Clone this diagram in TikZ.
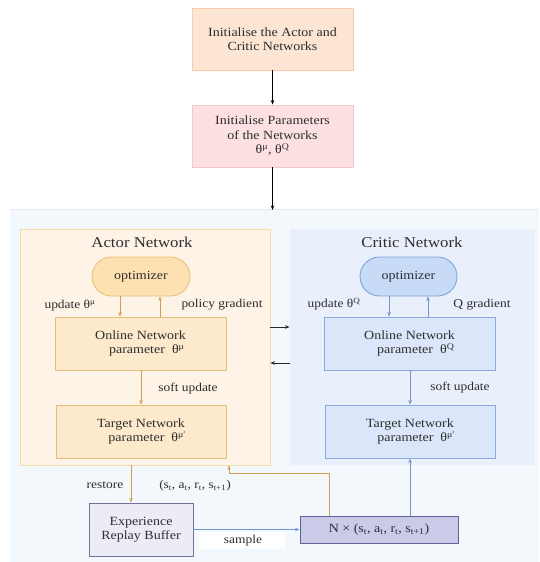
\documentclass[tikz,border=0pt]{standalone}
\usepackage{fontspec}
\setmainfont[FakeStretch=1.12]{Liberation Serif}
\usetikzlibrary{arrows.meta,shapes.misc}
\definecolor{txt}{HTML}{2E2E2E}
\definecolor{bgblue}{HTML}{F3F8FD}
\definecolor{bgline}{HTML}{E2E8F2}
\definecolor{peachF}{HTML}{FDE5D4}
\definecolor{peachD}{HTML}{F8CBAE}
\definecolor{pinkF}{HTML}{FDE1E2}
\definecolor{pinkD}{HTML}{F5C8C8}
\definecolor{actF}{HTML}{FDF3E6}
\definecolor{actD}{HTML}{F6DCAA}
\definecolor{aoptF}{HTML}{FDE1B1}
\definecolor{aoptD}{HTML}{E6C27C}
\definecolor{aboxF}{HTML}{FDE9CB}
\definecolor{aboxD}{HTML}{E4BF7C}
\definecolor{goldA}{HTML}{D0A050}
\definecolor{criF}{HTML}{E9EFFB}
\definecolor{coptF}{HTML}{C7DBF7}
\definecolor{coptD}{HTML}{7FA5D9}
\definecolor{cboxF}{HTML}{DBE6FA}
\definecolor{cboxD}{HTML}{88AADD}
\definecolor{blueA}{HTML}{6E96D0}
\definecolor{bufF}{HTML}{ECECF6}
\definecolor{bufD}{HTML}{72729A}
\definecolor{nF}{HTML}{CACAE9}
\definecolor{nD}{HTML}{62629C}
\tikzset{
  base/.style={text=txt, font=\fontsize{12.5}{14.5}\selectfont, align=center, inner sep=0pt, line width=0.9pt},
  box/.style={base, rectangle, minimum width=#1},
  region/.style={rectangle, inner sep=0pt, line width=0.9pt},
  title/.style={text=txt, font=\fontsize{15}{17}\selectfont, inner sep=0pt},
  lbl/.style={text=txt, font=\fontsize{12}{14}\selectfont, inner sep=0pt},
  arr/.style={line width=1pt, -{Stealth[length=4.5pt,width=3.5pt]}},
}
\newcommand{\thmu}{θ\textsuperscript{μ}}
\newcommand{\thQ}{θ\textsuperscript{Q}}
\newcommand{\thmup}{θ\textsuperscript{μ′}}
\newcommand{\tup}{(s\textsubscript{t}, a\textsubscript{t}, r\textsubscript{t}, s\textsubscript{t+1})}
\begin{document}
\begin{tikzpicture}[x=1pt,y=-1pt]
\useasboundingbox (0,0) rectangle (539,562);
% background region
\fill[bgblue] (10,209) rectangle (539,562);
\draw[bgline, line width=0.8pt] (10,209.5) -- (539,209.5);
\coordinate (bgtop) at (272.5,210);

% top boxes
\node[box=161pt, minimum height=62pt, fill=peachF, draw=peachD] (init1) at (272.5,39) {Initialise the Actor and\\Critic Networks};
\node[box=161pt, minimum height=62pt, fill=pinkF, draw=pinkD] (init2) at (272.5,136) {Initialise Parameters\\of the Networks\\\thmu, \thQ};
\draw[arr, black] (init1) -- (init2);
\draw[arr, black] (init2) -- (bgtop);

% regions
\node[region, minimum width=250pt, minimum height=236pt, fill=actF, draw=actD] (actorreg) at (145,347) {};
\node[region, minimum width=245pt, minimum height=236pt, fill=criF] (criticreg) at (412.5,347) {};
\node[title] (atitle) at (142,242) {Actor Network};
\node[title] (ctitle) at (412,242) {Critic Network};

% actor
\node[base, rounded rectangle, minimum width=98pt, minimum height=39pt, fill=aoptF, draw=aoptD] (aopt) at (141,276.5) {optimizer};
\node[box=171pt, minimum height=53pt, fill=aboxF, draw=aboxD] (aon) at (140.5,343.5) {Online Network\\\hspace*{1em}parameter~~\thmu};
\node[box=170pt, minimum height=53pt, fill=aboxF, draw=aboxD] (atg) at (141,431.5) {Target Network\\\hspace*{1em}parameter~~\thmup};
\draw[arr, goldA] ([xshift=-21pt]aopt.south) -- ([xshift=-21pt]aopt.south |- aon.north);
\draw[arr, goldA] ([xshift=19pt]aopt.south |- aon.north) -- ([xshift=19pt]aopt.south);
\draw[arr, goldA] (aon.south -| atg.north) -- (atg.north);
\node[lbl] (alu) at (70,306) {update \thmu};
\node[lbl] (alp) at (222,305) {policy gradient};
\node[lbl] (als) at (188,389) {soft update};

% critic
\node[base, rounded rectangle, minimum width=97pt, minimum height=39pt, fill=coptF, draw=coptD] (copt) at (408.5,276.5) {optimizer};
\node[box=171pt, minimum height=53pt, fill=cboxF, draw=cboxD] (con) at (409.5,343.5) {Online Network\\\hspace*{1em}parameter~~\thQ};
\node[box=170pt, minimum height=53pt, fill=cboxF, draw=cboxD] (ctg) at (410,431.5) {Target Network\\\hspace*{1em}parameter~~\thmup};
\draw[arr, blueA] ([xshift=-19.5pt]copt.south) -- ([xshift=-19.5pt]copt.south |- con.north);
\draw[arr, blueA] ([xshift=19.5pt]copt.south |- con.north) -- ([xshift=19.5pt]copt.south);
\draw[arr, blueA] (con.south -| ctg.north) -- (ctg.north);
\node[lbl] (clu) at (334,304) {update \thQ};
\node[lbl] (clq) at (482,305) {Q gradient};
\node[lbl] (cls) at (460,388) {soft update};

% cross arrows
\draw[arr, black!85] ([yshift=20pt]actorreg.east) -- ([yshift=20pt]criticreg.west);
\draw[arr, black!85] ([yshift=-16pt]criticreg.west) -- ([yshift=-16pt]actorreg.east);

% bottom
\node[box=104pt, minimum height=53pt, fill=bufF, draw=bufD] (buf) at (141,529.5) {Experience\\Replay Buffer};
\node[box=158pt, minimum height=27pt, fill=nF, draw=nD] (nbox) at (379,529.5) {N × \tup};
\node[rectangle, fill=white, minimum width=86pt, minimum height=17pt, inner sep=0pt] (samplebg) at (242,540.5) {};
\node[lbl] (slbl) at (243,541) {sample};
\draw[arr, blueA] (buf.east) -- (nbox.west);
\draw[arr, goldA] ([xshift=-14pt]actorreg.south) -- ([xshift=-10pt]buf.north);
\node[lbl] (rlbl) at (105,485) {restore};
\node[lbl] (tlbl) at (195,486) {\tup};
\coordinate (bend) at ([xshift=-50pt, yshift=42pt]nbox.north);
\draw[arr, goldA] ([xshift=-50pt]nbox.north) -- (bend) -| ([xshift=84pt]actorreg.south);
\draw[arr, blueA] (nbox.north -| ctg.south) -- (ctg.south);
\end{tikzpicture}
\end{document}
